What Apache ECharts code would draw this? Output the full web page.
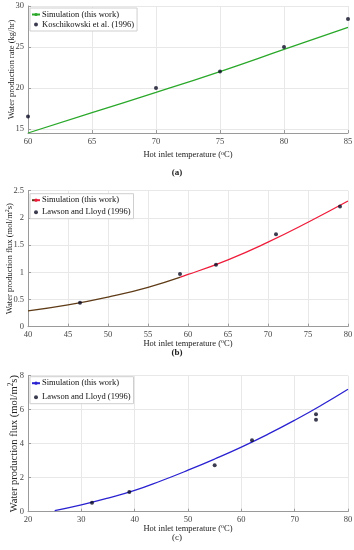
<!DOCTYPE html>
<html>
<head>
<meta charset="utf-8">
<script src="https://cdn.jsdelivr.net/npm/echarts@6/dist/echarts.min.js"></script>
<style>
html,body{margin:0;padding:0;background:#fff;width:354px;height:550px;overflow:hidden;}
.c{position:absolute;left:0;width:354px;}
</style>
</head>
<body>
<div id="a" class="c" style="top:0;height:182px"></div>
<div id="b" class="c" style="top:182px;height:183px"></div>
<div id="cc" class="c" style="top:365px;height:185px"></div>
<script>
// ---- Data ----
// (a)
const aSimX = [60, 65, 70, 75, 80, 85];
const aSimY = [14.5, 17.0, 19.45, 22.0, 24.7, 27.4];
const aExpX = [60, 70, 75, 80, 85];
const aExpY = [16.5, 20.0, 22.0, 25.0, 28.4];
const aYTicks = [15, 20, 25, 30];
// (b)
const bSimX = [40, 45, 50, 55, 60, 65, 70, 75, 80];
const bSimY = [0.29, 0.40, 0.545, 0.725, 0.96, 1.23, 1.555, 1.92, 2.31];
const bExpX = [46.5, 59, 63.5, 71, 79];
const bExpY = [0.44, 0.97, 1.14, 1.70, 2.21];
const bColorSwitchX = 59;
// (c)
const cSimX = [25, 30, 35, 40, 45, 50, 55, 60, 65, 70, 75, 80];
const cSimY = [0.06, 0.40, 0.80, 1.25, 1.82, 2.44, 3.10, 3.80, 4.56, 5.38, 6.26, 7.20];
const cExpX = [32, 39, 55, 62, 74, 74];
const cExpY = [0.53, 1.16, 2.73, 4.20, 5.73, 5.41];

const SIM = 'Simulation (this work)';
const FONT = 'Liberation Serif';
const zip = (xs, ys) => xs.map((x, i) => [x, ys[i]]);

function baseAxis(extra) {
  return Object.assign({
    type: 'value',
    nameMoveOverlap: false,
    axisLine: {show: true, lineStyle: {color: '#9a9a9a', width: 1}},
    axisTick: {show: true, inside: true, length: 3, lineStyle: {color: '#9a9a9a'}},
    splitLine: {show: true, lineStyle: {color: '#e8e8e8', width: 1}},
    axisLabel: {color: '#444', fontFamily: FONT, fontSize: 8.5, margin: 4},
    nameTextStyle: {color: '#222', fontFamily: FONT, fontSize: 8.5}
  }, extra);
}
const xName = 'Hot inlet temperature ({s|o}C)';
const supRich = (fs) => ({s: {fontSize: fs * 0.7, verticalAlign: 'top', padding: [0,0,fs*0.5,0], fontFamily: FONT, color: '#222'}});

function makeChart(el, cfg) {
  const ch = echarts.init(document.getElementById(el), null, {renderer: 'canvas'});
  ch.setOption({
    animation: false,
    backgroundColor: '#fff',
    textStyle: {fontFamily: FONT},
    grid: {left: 28, top: cfg.top, width: 320, height: cfg.h, containLabel: false, outerBoundsMode: 'none'},
    legend: {
      left: 30, top: cfg.top + cfg.legTop,
      orient: 'vertical',
      backgroundColor: '#fff', borderColor: '#cfcfcf', borderWidth: 1,
      padding: [2, 3, 2, 1], itemGap: cfg.legGap,
      itemWidth: 8, itemHeight: 4,
      textStyle: {fontFamily: FONT, fontSize: cfg.legFs, color: '#111', padding: [0,0,0,-3]},
      data: [SIM, cfg.expName]
    },
    xAxis: baseAxis({
      min: cfg.xmin, max: cfg.xmax, interval: cfg.xint,
      name: xName, nameLocation: 'middle', nameGap: cfg.xNameGap,
      nameTextStyle: {color: '#222', fontFamily: FONT, fontSize: 8.5, rich: supRich(8.5)}
    }),
    yAxis: cfg.yAxis,
    series: [
      {
        name: SIM, type: 'line', smooth: true, showSymbol: false, symbol: 'none',
        lineStyle: {color: cfg.lineColor || cfg.color, width: 1.3}, itemStyle: {color: cfg.color},
        data: zip(cfg.simX, cfg.simY), z: 2
      },
      {
        name: cfg.expName, type: 'scatter', symbol: 'circle', symbolSize: 4,
        itemStyle: {color: '#0b0b24'}, data: zip(cfg.expX, cfg.expY), z: 3
      }
    ],
    graphic: [{
      type: 'text', left: 'center', top: cfg.labTop,
      style: {text: cfg.lab, font: cfg.labFont, fill: '#222'}
    }]
  });
}

makeChart('a', {
  top: 6, h: 127, legTop: 2, legGap: 1, legFs: 8.5, color: '#2aa82a',
  expName: 'Koschikowski et al. (1996)',
  xmin: 60, xmax: 85, xint: 5, xNameGap: 17,
  simX: aSimX, simY: aSimY, expX: aExpX, expY: aExpY,
  yAxis: baseAxis({
    min: 14.5, max: 30,
    axisLabel: {color: '#444', fontFamily: FONT, fontSize: 8.5, margin: 4, customValues: aYTicks},
    axisTick: {show: true, inside: true, length: 3, lineStyle: {color: '#9a9a9a'}, customValues: aYTicks},
    name: 'Water production rate (kg/hr)', nameLocation: 'middle', nameGap: 12
  }),
  lab: '(a)', labFont: 'bold 9px "Liberation Serif"', labTop: 168
});

const bFrac = (bColorSwitchX - bSimX[0]) / (bSimX[bSimX.length - 1] - bSimX[0]);
makeChart('b', {
  top: 8.7, h: 136, legTop: 3, legGap: 3, legFs: 8.5, color: '#ee1c3a',
  lineColor: new echarts.graphic.LinearGradient(0, 0, 1, 0, [
    {offset: 0, color: '#5e3b16'}, {offset: bFrac, color: '#5e3b16'},
    {offset: bFrac, color: '#ee1c3a'}, {offset: 1, color: '#ee1c3a'}
  ]),
  expName: 'Lawson and Lloyd (1996)',
  xmin: 40, xmax: 80, xint: 5, xNameGap: 12,
  simX: bSimX, simY: bSimY, expX: bExpX, expY: bExpY,
  yAxis: baseAxis({
    min: 0, max: 2.5, interval: 0.5,
    name: 'Water production flux (mol/m{s|2}s)', nameLocation: 'middle', nameGap: 13,
    nameTextStyle: {color: '#222', fontFamily: FONT, fontSize: 8.5, rich: supRich(8.5)}
  }),
  lab: '(b)', labFont: 'bold 9px "Liberation Serif"', labTop: 166
});

makeChart('cc', {
  top: 10.7, h: 136, legTop: 1, legGap: 5, legFs: 8.5, color: '#2a22d0',
  expName: 'Lawson and Lloyd (1996)',
  xmin: 20, xmax: 80, xint: 10, xNameGap: 12,
  simX: cSimX, simY: cSimY, expX: cExpX, expY: cExpY,
  yAxis: baseAxis({
    min: 0, max: 8, interval: 2,
    name: 'Water production flux (mol/m{s|2}s)', nameLocation: 'middle', nameGap: 8,
    nameTextStyle: {color: '#222', fontFamily: FONT, fontSize: 10.5, rich: supRich(10.5)}
  }),
  lab: '(c)', labFont: '9px "Liberation Serif"', labTop: 168
});
</script>
</body>
</html>
